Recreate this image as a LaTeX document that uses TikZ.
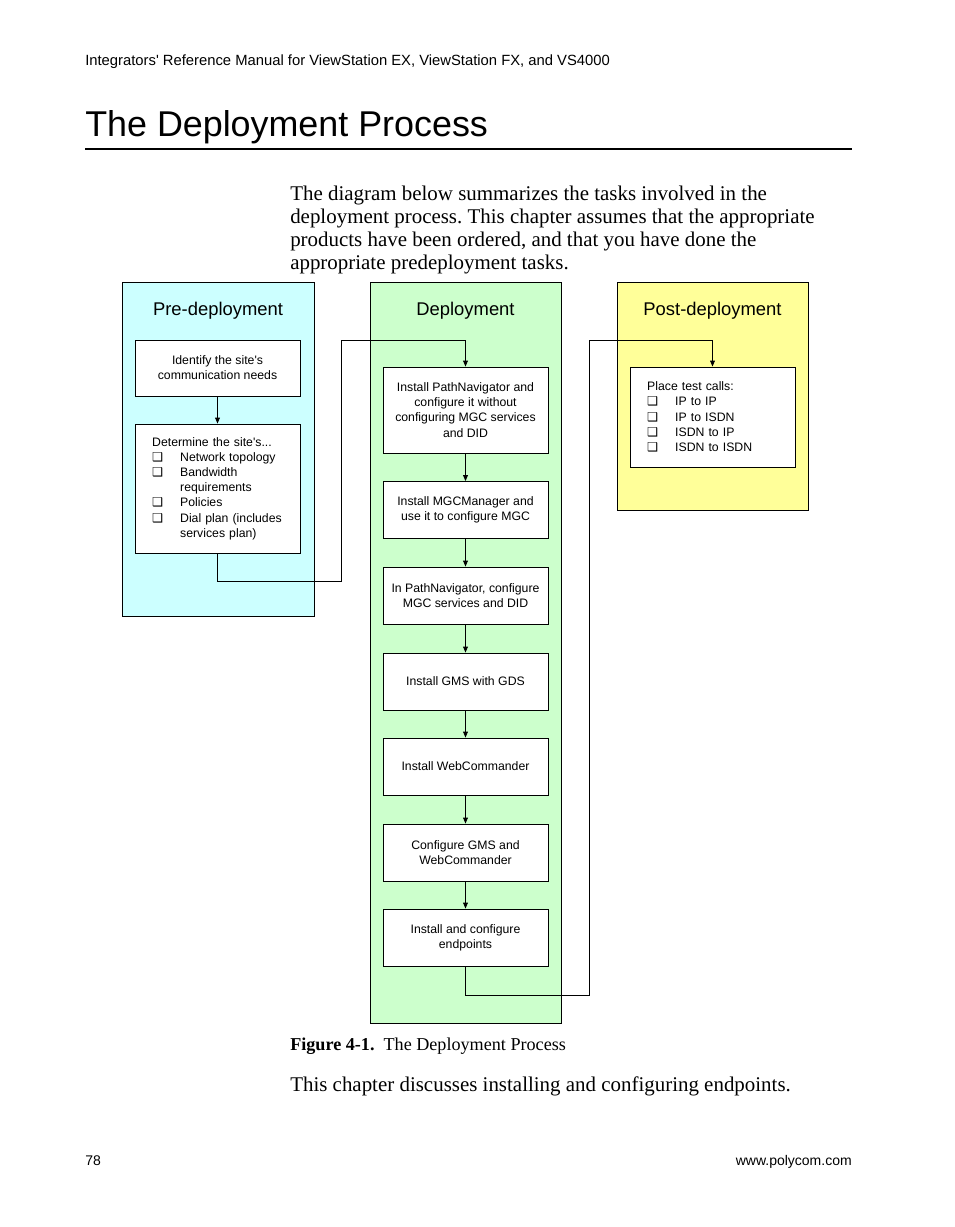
\documentclass[tikz,border=0pt]{standalone}
\usepackage{fontspec}
\setmainfont{Liberation Serif}
\newfontfamily\arialfont{Liberation Sans}
\newfontfamily\dingfont{DejaVu Sans}
\usepackage{xcolor}
\usetikzlibrary{arrows.meta, positioning}
\frenchspacing

\definecolor{precyan}{HTML}{CCFFFF}
\definecolor{depgreen}{HTML}{CCFFCC}
\definecolor{postyellow}{HTML}{FFFF99}

\newcommand{\chkitem}{\makebox[21pt][l]{{\dingfont\fontsize{9.2pt}{9pt}\selectfont ❑}}}
\newcommand{\chkgap}{\hspace*{21pt}}

\tikzset{
  column/.style={draw, line width=1.1pt, anchor=north west, inner sep=0pt},
  coltitle/.style={font=\arialfont\fontsize{13.8pt}{16pt}\selectfont},
  stepbox/.style={draw, fill=white, line width=0.6pt, minimum width=123.75pt, align=center, inner sep=0pt, font=\arialfont\fontsize{9.2pt}{11.4pt}\selectfont},
  listbox/.style={stepbox, align=left, text width=98pt, inner xsep=12.75pt},
  flow/.style={line width=0.75pt, -{Triangle[length=4.5pt,width=3.6pt]}},
  bodytext/.style={anchor=base west, inner sep=0pt, font=\fontsize{15.7pt}{17pt}\selectfont},
}

\begin{document}
\begin{tikzpicture}[x=0.75pt, y=-0.75pt]
  \useasboundingbox (0,0) rectangle (954,1227);

  % page header and title
  \node[anchor=base west, inner sep=0pt, font=\arialfont\fontsize{11.1pt}{12pt}\selectfont] (header) at (85,66)
    {Integrators' Reference Manual for ViewStation EX, ViewStation FX, and VS4000};
  \node[anchor=base west, inner sep=0pt, font=\arialfont\fontsize{26.9pt}{30pt}\selectfont] (title) at (85,137)
    {The Deployment Process};
  \draw[line width=0.8pt] (85,149) -- (852,149);

  % intro paragraph
  \node[bodytext] (intro1) at (290,200) {The diagram below summarizes the tasks involved in the};
  \node[bodytext] (intro2) at (290,223) {deployment process. This chapter assumes that the appropriate};
  \node[bodytext] (intro3) at (290,246) {products have been ordered, and that you have done the};
  \node[bodytext] (intro4) at (290,269) {appropriate predeployment tasks.};

  % the three phase columns
  \node[column, fill=precyan, minimum width=144pt, minimum height=250.5pt] (pre) at (122,282) {};
  \node[column, fill=depgreen, minimum width=143.25pt, minimum height=555.75pt] (dep) at (370,282) {};
  \node[column, fill=postyellow, minimum width=143.25pt, minimum height=171pt] (post) at (617,282) {};
  \node[coltitle] (pretitle) at (218,310.5) {Pre-deployment};
  \node[coltitle] (deptitle) at (465.5,310.5) {Deployment};
  \node[coltitle] (posttitle) at (712.5,310.5) {Post-deployment};

  % pre-deployment tasks
  \node[stepbox, minimum height=42pt] (needs) at (217.5,368) {Identify the site's\\communication needs};
  \node[listbox, minimum height=96.75pt] (determine) at (217.5,488.5)
    {Determine the site's...\\
     \chkitem Network topology\\
     \chkitem Bandwidth\\
     \chkgap requirements\\
     \chkitem Policies\\
     \chkitem Dial plan (includes\\
     \chkgap services plan)};

  % deployment tasks
  \node[stepbox, minimum height=64.5pt] (pathnav) at (465.5,410)
    {Install PathNavigator and\\configure it without\\configuring MGC services\\and DID};
  \node[stepbox, minimum height=42.75pt] (mgcman) at (465.5,510) {Install MGCManager and\\use it to configure MGC};
  \node[stepbox, minimum height=42.75pt] (mgcsvc) at (465.5,595.5) {In PathNavigator, configure\\MGC services and DID};
  \node[stepbox, minimum height=42.75pt] (gms) at (465.5,681.5) {Install GMS with GDS};
  \node[stepbox, minimum height=42.75pt] (webcmd) at (465.5,766.5) {Install WebCommander};
  \node[stepbox, minimum height=42.75pt] (cfggms) at (465.5,852.5) {Configure GMS and\\WebCommander};
  \node[stepbox, minimum height=42.75pt] (endpts) at (465.5,937.5) {Install and configure\\endpoints};

  % post-deployment task
  \node[listbox, minimum height=75pt] (calls) at (712.5,417)
    {Place test calls:\\
     \chkitem IP to IP\\
     \chkitem IP to ISDN\\
     \chkitem ISDN to IP\\
     \chkitem ISDN to ISDN};

  % connectors
  \coordinate (preout) at (341,581);
  \coordinate (prein) at (341,340);
  \coordinate (depout) at (589,995);
  \coordinate (depin) at (589,340);

  \draw[flow] (needs) -- (determine);
  \draw[flow] (determine.south) |- (preout) -- (prein) -| (pathnav.north);
  \draw[flow] (pathnav) -- (mgcman);
  \draw[flow] (mgcman) -- (mgcsvc);
  \draw[flow] (mgcsvc) -- (gms);
  \draw[flow] (gms) -- (webcmd);
  \draw[flow] (webcmd) -- (cfggms);
  \draw[flow] (cfggms) -- (endpts);
  \draw[flow] (endpts.south) |- (depout) -- (depin) -| (calls.north);

  % caption, closing line and footer
  \node[anchor=base west, inner sep=0pt, font=\fontsize{13.6pt}{15pt}\selectfont] (caption) at (290,1050)
    {\textbf{Figure 4-1.}\enspace The Deployment Process};
  \node[bodytext] (closing) at (290,1091) {This chapter discusses installing and configuring endpoints.};
  \node[anchor=base west, inner sep=0pt, font=\arialfont\fontsize{10.5pt}{12pt}\selectfont] (pagenum) at (85,1165) {78};
  \node[anchor=base east, inner sep=0pt, font=\arialfont\fontsize{10.5pt}{12pt}\selectfont] (website) at (852,1165) {www.polycom.com};
\end{tikzpicture}
\end{document}
